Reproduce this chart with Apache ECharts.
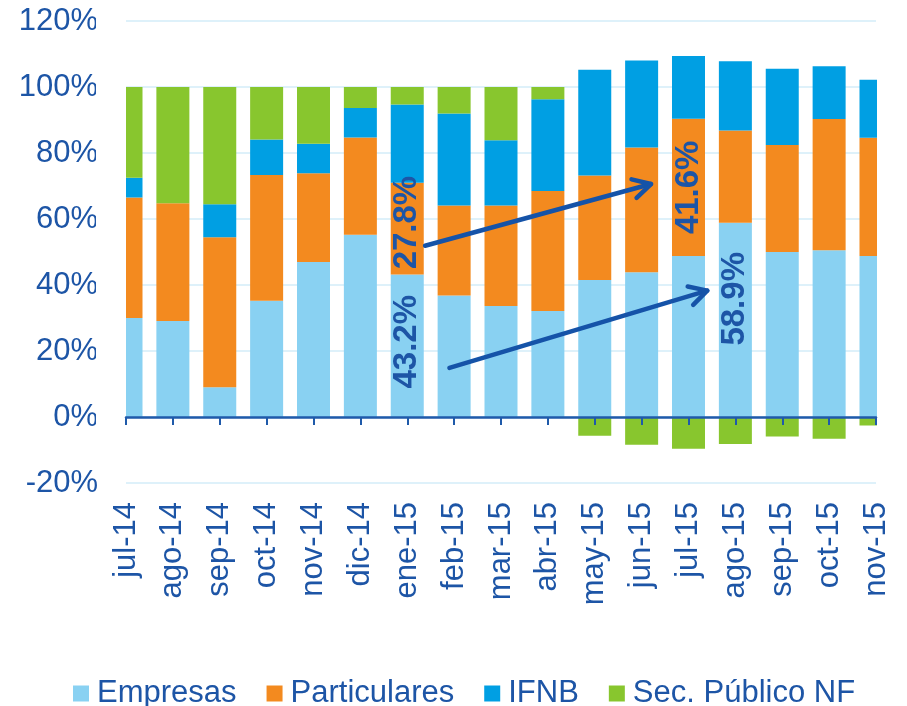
<!DOCTYPE html>
<html>
<head>
<meta charset="utf-8">
<script src="https://cdn.jsdelivr.net/npm/echarts@6/dist/echarts.min.js"></script>
<style>
  html, body { margin: 0; padding: 0; background: #fff; }
  #chart { width: 907px; height: 706px; }
</style>
</head>
<body>
<div id="chart"></div>
<script>
  // datos (% del total)
  var months = ['jul-14', 'ago-14', 'sep-14', 'oct-14', 'nov-14', 'dic-14', 'ene-15', 'feb-15', 'mar-15',
    'abr-15', 'may-15', 'jun-15', 'jul-15', 'ago-15', 'sep-15', 'oct-15', 'nov-15'];
  var empresas     = [30.0, 29.1, 9.0, 35.2, 47.0, 55.2, 43.2, 36.8, 33.6, 32.1, 41.5, 43.9, 48.8, 58.9, 50.0, 50.5, 48.8];
  var particulares = [36.5, 35.7, 45.5, 38.1, 26.9, 29.5, 27.8, 27.3, 30.5, 36.4, 31.7, 37.8, 41.6, 27.9, 32.4, 39.8, 35.8];
  var ifnb         = [6.0, 0, 10.0, 10.8, 8.9, 8.9, 23.7, 27.9, 19.8, 27.8, 32.0, 26.3, 19.0, 21.0, 23.1, 16.0, 17.6];
  var secPublico   = [27.5, 35.2, 35.5, 15.9, 17.2, 6.4, 5.3, 8.0, 16.1, 3.7, -5.7, -8.4, -9.6, -8.2, -5.9, -6.6, -2.6];

  // valores destacados: [serie, mes, desplazamiento hacia arriba px]
  var highlights = [
    ['Empresas', 'ene-15', 4],
    ['Particulares', 'ene-15', 6],
    ['Particulares', 'jul-15', 0],
    ['Empresas', 'ago-15', 21]
  ];
  // flechas en coordenadas (indice de mes, %)
  var arrows = [
    [[6.38, 51.9], [11.2, 70.6]],
    [[6.9, 14.9], [12.4, 38.3]]
  ];

  var textBlue = '#1D55A6';
  var font = 'Liberation Sans, Arial, sans-serif';

  function withLabels(name, values) {
    return values.map(function (v, i) {
      var h = highlights.filter(function (x) { return x[0] === name && x[1] === months[i]; })[0];
      if (!h) return v;
      // con rotate 90 el eje x local apunta hacia arriba
      return {
        value: v,
        label: {
          show: true, position: 'inside', rotate: 90, offset: [h[2], 0],
          formatter: '{c}%', color: textBlue, fontSize: 33, fontWeight: 'bold', fontFamily: font
        }
      };
    });
  }

  var chart = echarts.init(document.getElementById('chart'));

  function makeSeries(name, values, color) {
    return {
      name: name,
      type: 'bar',
      stack: 'total',
      xAxisIndex: 0,
      barWidth: 33,
      itemStyle: { color: color },
      emphasis: { disabled: true },
      data: withLabels(name, values)
    };
  }

  var option = {
    animation: false,
    textStyle: { fontFamily: font },
    grid: { left: 126, right: 31, top: 21, bottom: 223 },
    legend: {
      left: 68,
      top: 673,
      icon: 'rect',
      itemWidth: 16,
      itemHeight: 16,
      itemGap: 30,
      textStyle: { color: textBlue, fontSize: 31, fontFamily: font, padding: [0, 0, 0, 3] },
      data: ['Empresas', 'Particulares', 'IFNB', 'Sec. Público NF']
    },
    xAxis: [{
      type: 'category',
      data: months,
      boundaryGap: false,
      axisLine: { onZero: true, lineStyle: { color: '#1F5AAA', width: 2.5 } },
      axisTick: { show: true, interval: 0, length: 8, lineStyle: { color: '#1F5AAA', width: 2 } },
      axisLabel: { show: false },
      splitLine: { show: false },
      z: 60
    }, {
      type: 'category',
      data: months,
      boundaryGap: false,
      position: 'bottom',
      axisLine: { show: false, onZero: false },
      axisTick: { show: false },
      axisLabel: { rotate: 90, margin: 19, color: textBlue, fontSize: 31, fontFamily: font, interval: 0 },
      splitLine: { show: false }
    }],
    yAxis: {
      type: 'value',
      min: -20,
      max: 120,
      interval: 20,
      axisLine: { show: false },
      axisTick: { show: false },
      axisLabel: { formatter: '{value}%', margin: 28, color: textBlue, fontSize: 31, fontFamily: font },
      splitLine: { lineStyle: { color: '#D3ECF8', width: 1.5 } }
    },
    series: [
      makeSeries('Empresas', empresas, '#89D1F2'),
      makeSeries('Particulares', particulares, '#F38A1F'),
      makeSeries('IFNB', ifnb, '#009FE3'),
      makeSeries('Sec. Público NF', secPublico, '#88C62E')
    ]
  };
  chart.setOption(option);

  // pixel de un punto con indice fraccional de mes
  function toPx(c) {
    var a = chart.convertToPixel({ xAxisIndex: 0, yAxisIndex: 0 }, [0, c[1]]);
    var b = chart.convertToPixel({ xAxisIndex: 0, yAxisIndex: 0 }, [1, c[1]]);
    return [a[0] + c[0] * (b[0] - a[0]), a[1]];
  }

  var graphics = [];
  // las barras de los extremos quedan cortadas por el borde del area
  var left = chart.convertToPixel({ xAxisIndex: 0 }, months[0]);
  var right = chart.convertToPixel({ xAxisIndex: 0 }, months[months.length - 1]);
  graphics.push({ type: 'rect', z: 50, silent: true, shape: { x: left - 30, y: 0, width: 30, height: 480 }, style: { fill: '#fff' } });
  graphics.push({ type: 'rect', z: 50, silent: true, shape: { x: right + 1, y: 0, width: 40, height: 480 }, style: { fill: '#fff' } });

  arrows.forEach(function (ar) {
    var p0 = toPx(ar[0]), p1 = toPx(ar[1]);
    var ang = Math.atan2(p1[1] - p0[1], p1[0] - p0[0]);
    var len = 20, spread = 0.5;
    var h1 = [p1[0] - len * Math.cos(ang - spread), p1[1] - len * Math.sin(ang - spread)];
    var h2 = [p1[0] - len * Math.cos(ang + spread), p1[1] - len * Math.sin(ang + spread)];
    var st = { stroke: '#1553A8', lineWidth: 4.5, lineCap: 'round', lineJoin: 'round', fill: null };
    graphics.push({ type: 'polyline', z: 100, shape: { points: [p0, p1] }, style: st });
    graphics.push({ type: 'polyline', z: 100, shape: { points: [h1, p1, h2] }, style: st });
  });
  chart.setOption({ graphic: graphics });
</script>
</body>
</html>
